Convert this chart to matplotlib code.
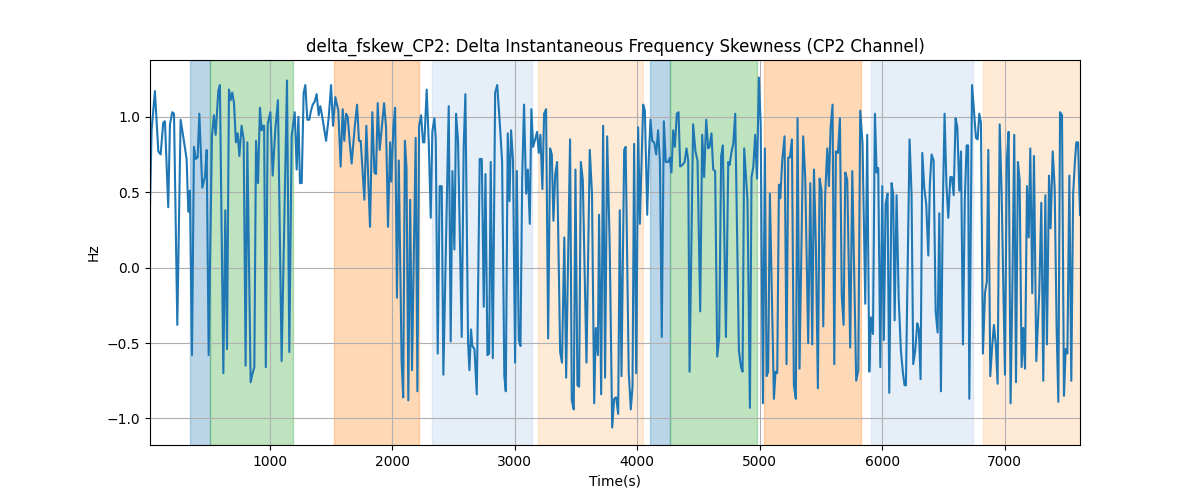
import matplotlib
matplotlib.use("Agg")
import matplotlib.pyplot as plt

# time stamps (s) and delta frequency skewness values (Hz)
times = [20, 33, 60, 88, 107, 128, 142, 169, 183, 202, 216, 243, 270, 295, 319, 333, 346, 363, 379, 393,
         409, 423, 447, 469, 483, 499, 526, 542, 556, 578, 591, 619, 635, 649, 665, 679, 692, 706, 722, 736,
         750, 768, 785, 801, 815, 842, 858, 872, 886, 902, 918, 932, 940, 952, 966, 981, 1003, 1022, 1044, 1065,
         1095, 1139, 1158, 1177, 1202, 1218, 1232, 1245, 1259, 1275, 1289, 1305, 1321, 1335, 1349, 1365, 1381, 1398, 1411, 1425,
         1458, 1479, 1499, 1515, 1534, 1558, 1577, 1594, 1607, 1621, 1635, 1651, 1667, 1692, 1711, 1727, 1741, 1771, 1787, 1817,
         1836, 1853, 1866, 1880, 1896, 1913, 1932, 1948, 1964, 1981, 1991, 2008, 2022, 2037, 2052, 2075, 2088, 2102, 2115, 2130,
         2145, 2160, 2190, 2204, 2218, 2234, 2250, 2261, 2280, 2297, 2313, 2326, 2343, 2354, 2370, 2386, 2403, 2416, 2460, 2476,
         2490, 2506, 2520, 2536, 2566, 2582, 2596, 2618, 2629, 2642, 2653, 2670, 2689, 2713, 2730, 2746, 2760, 2776, 2790, 2803,
         2820, 2839, 2856, 2880, 2896, 2914, 2926, 2942, 2956, 2969, 2985, 3002, 3016, 3032, 3046, 3060, 3075, 3092, 3106, 3122,
         3135, 3149, 3166, 3182, 3195, 3209, 3225, 3239, 3255, 3272, 3288, 3302, 3315, 3330, 3345, 3370, 3385, 3404, 3419, 3451,
         3465, 3481, 3495, 3511, 3525, 3539, 3555, 3585, 3612, 3630, 3648, 3661, 3678, 3688, 3705, 3721, 3737, 3754, 3775, 3795,
         3811, 3827, 3844, 3857, 3871, 3893, 3905, 3930, 3947, 3961, 3974, 3991, 4007, 4021, 4035, 4048, 4062, 4081, 4095, 4108,
         4122, 4138, 4154, 4170, 4185, 4200, 4217, 4233, 4252, 4266, 4279, 4293, 4307, 4323, 4337, 4350, 4368, 4387, 4402, 4416,
         4427, 4456, 4475, 4492, 4514, 4530, 4546, 4563, 4579, 4590, 4606, 4620, 4636, 4653, 4669, 4685, 4699, 4724, 4743, 4754,
         4770, 4784, 4800, 4830, 4847, 4860, 4873, 4900, 4920, 4933, 4948, 4963, 4978, 4993, 5008, 5026, 5042, 5056, 5069, 5083,
         5116, 5129, 5143, 5157, 5168, 5184, 5203, 5219, 5233, 5247, 5263, 5279, 5295, 5309, 5325, 5355, 5372, 5396, 5413, 5429,
         5443, 5459, 5475, 5489, 5505, 5519, 5535, 5552, 5565, 5579, 5595, 5609, 5622, 5639, 5655, 5670, 5685, 5699, 5715, 5739,
         5756, 5788, 5805, 5821, 5840, 5862, 5878, 5895, 5908, 5925, 5941, 5955, 5968, 5985, 6001, 6014, 6028, 6044, 6058, 6077,
         6090, 6102, 6118, 6135, 6153, 6170, 6183, 6194, 6224, 6240, 6254, 6270, 6287, 6300, 6314, 6328, 6344, 6360, 6377, 6390,
         6404, 6420, 6437, 6453, 6467, 6480, 6495, 6510, 6525, 6540, 6557, 6570, 6584, 6600, 6614, 6630, 6644, 6660, 6675, 6690,
         6702, 6712, 6734, 6750, 6766, 6780, 6793, 6807, 6823, 6840, 6855, 6867, 6883, 6898, 6913, 6928, 6943, 6960, 6976, 7003,
         7018, 7033, 7049, 7063, 7079, 7093, 7109, 7123, 7139, 7153, 7167, 7183, 7197, 7210, 7226, 7240, 7259, 7283, 7300, 7316,
         7333, 7346, 7363, 7376, 7393, 7409, 7425, 7439, 7453, 7469, 7485, 7499, 7513, 7529, 7545, 7560, 7575, 7586, 7600, 7616]

values = [0.40, 0.91, 1.17, 0.77, 0.75, 0.96, 0.97, 0.40, 0.95, 1.03, 1.02, -0.38, 0.98, 0.85, 0.72, 0.37, 0.51, -0.58, 0.80, 0.72,
          0.73, 1.02, 0.53, 0.60, 0.78, -0.58, 0.87, 1.01, 0.88, 1.17, 1.21, -0.70, 0.38, -0.54, 1.18, 1.11, 1.16, 1.09, 0.83, 0.89,
          0.74, 0.94, 0.85, -0.65, 0.83, -0.76, -0.70, -0.66, 0.84, 0.56, 1.06, 0.91, 0.94, 0.94, -0.66, 0.95, 1.03, 0.61, 0.92, 1.11,
          -0.62, 1.24, -0.56, 0.87, 1.03, 0.65, 1.00, 0.56, 0.56, 1.16, 1.21, 0.98, 0.98, 1.04, 1.08, 1.10, 1.15, 1.01, 1.07, 1.01,
          0.84, 0.99, 1.21, 0.94, 1.13, 1.04, 0.67, 1.05, 0.84, 1.02, 1.00, 0.83, 0.69, 0.93, 1.08, 0.84, 0.84, 0.45, 0.94, 0.27,
          1.03, 0.63, 0.62, 1.09, 0.78, 0.93, 1.09, 0.93, 0.27, 0.83, 0.57, 0.93, 1.06, -0.20, 0.71, -0.62, -0.86, 0.84, 0.66, -0.88,
          0.45, -0.68, 0.86, -0.82, 0.94, 1.01, 0.83, 0.83, 1.18, 0.82, 0.33, 0.90, 0.99, 0.85, -0.57, 0.54, 0.54, -0.71, 1.07, -0.49,
          0.64, 0.12, 1.02, 0.84, -0.46, 0.80, 1.15, -0.50, -0.68, -0.41, -0.52, -0.54, -0.84, 0.72, 0.72, -0.26, 0.62, -0.58, -0.57, 0.70,
          -0.60, 1.16, 1.21, 0.92, 0.70, -0.72, -0.82, 0.89, 0.44, 0.91, 0.71, -0.63, 0.64, -0.48, -0.52, 0.60, 1.08, 0.49, 0.65, 0.29,
          1.05, 0.80, 0.85, 0.90, 0.76, 0.88, 0.52, 1.02, 1.05, -0.47, 0.79, 0.75, 0.31, 0.62, 0.70, -0.56, -0.63, 0.20, -0.73, 0.85,
          -0.88, -0.94, 0.65, -0.78, -0.79, 0.70, 0.58, -0.63, 0.78, 0.49, -0.90, -0.40, -0.58, 0.35, -0.84, 0.94, -0.73, 0.87, 0.13, -1.06,
          -0.87, -0.86, -0.97, 0.38, -0.72, 0.78, 0.80, -0.69, -0.94, -0.79, 0.82, -0.70, 0.93, 0.29, 0.70, 1.08, 1.04, 0.35, 0.75, 0.98,
          0.84, 0.83, 0.75, 0.91, 0.70, -0.46, 0.97, 0.70, 0.70, 0.73, 0.63, 0.91, 0.80, 1.02, 1.03, 0.67, 0.68, 0.70, 0.79, 0.71,
          -0.69, 0.95, 0.77, 0.71, -0.29, 0.88, 0.60, 0.98, 0.79, 0.80, 0.89, 0.65, 0.64, -0.59, -0.46, 0.74, 0.81, -0.46, 0.70, 0.68,
          0.77, 0.82, 1.02, -0.55, -0.66, -0.69, 0.79, 0.45, -0.93, 0.60, 0.67, 0.88, 0.59, 1.26, 0.95, -0.90, 0.79, -0.72, -0.69, 0.49,
          -0.87, -0.69, -0.70, 0.55, 0.46, 0.71, 0.87, -0.64, 0.73, 0.73, 0.85, -0.78, -0.87, 0.99, -0.67, 0.87, 0.59, -0.50, 0.56, -0.51,
          0.65, 0.13, -0.80, 0.59, 0.51, -0.39, 0.49, 0.79, 0.54, 0.93, 1.08, -0.64, 0.77, 0.76, 0.99, -0.18, -0.38, 0.63, 0.58, -0.53,
          0.64, -0.75, -0.68, 1.04, 0.82, -0.24, 0.88, -0.69, -0.33, -0.44, 1.02, 0.63, 0.66, -0.66, 0.54, -0.48, 0.42, 0.49, -0.83, 0.56,
          0.49, -0.35, 0.48, -0.20, -0.55, -0.70, -0.78, -0.78, 0.85, 0.49, -0.64, -0.55, -0.37, -0.41, -0.74, 0.76, 0.53, 0.42, 0.08, 0.56,
          0.75, 0.71, -0.29, -0.43, 0.36, -0.82, 0.38, 1.02, 0.55, 0.33, 0.60, 0.60, 0.48, 0.99, 0.93, 0.51, 0.77, -0.51, 0.45, 0.81,
          0.81, -0.87, 1.21, 1.04, 0.86, 0.85, 1.02, 0.96, -0.57, -0.17, -0.09, 0.78, -0.72, -0.53, -0.38, -0.51, -0.77, 0.95, 0.49, -0.71,
          0.71, 0.90, -0.90, -0.17, 0.88, -0.76, 0.70, 0.58, -0.66, -0.40, -0.67, 0.54, 0.20, 0.79, -0.17, 0.74, -0.62, -0.17, 0.43, -0.75,
          0.48, -0.51, 0.61, 0.26, 0.77, 0.53, -0.40, -0.89, 1.03, 1.01, -0.85, -0.54, -0.57, 0.61, -0.75, 0.49, 0.71, 0.83, 0.83, 0.35]

# shaded intervals
span_start = [346, 507, 1523, 2324, 3190, 4105, 4271, 5037, 5911, 6826]
span_end = [507, 1190, 2215, 3138, 4048, 4271, 4977, 5827, 6742, 7640]
span_color = ["tab:blue", "tab:green", "tab:orange", "#aec7e8", "#ffbb78",
              "tab:blue", "tab:green", "tab:orange", "#aec7e8", "#ffbb78"]

fig, ax = plt.subplots(figsize=(12, 5), dpi=100)

# background spans
for s, e, c in zip(span_start, span_end, span_color):
    ax.axvspan(s, e, color=c, alpha=0.3)

# the signal
ax.plot(times, values, color="tab:blue")

ax.set_xlim(times[0], times[-1])
ax.set_title("delta_fskew_CP2: Delta Instantaneous Frequency Skewness (CP2 Channel)")
ax.set_xlabel("Time(s)")
ax.set_ylabel("Hz")
ax.grid(True)

fig.savefig("out.png")
